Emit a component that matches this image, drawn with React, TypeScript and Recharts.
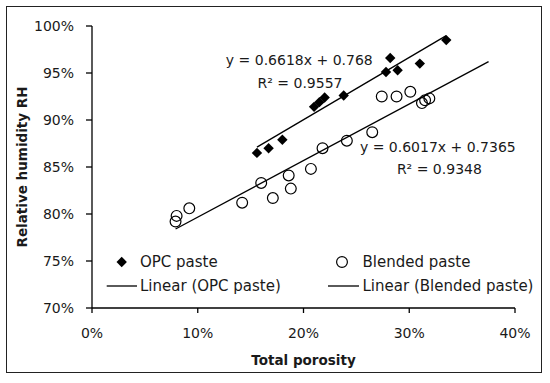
import React from 'react';
import { ScatterChart, Scatter, XAxis, YAxis, ReferenceLine, ReferenceDot, Legend } from 'recharts';

// OPC paste points
const opcPorosity = [0.156, 0.167, 0.180, 0.210, 0.215, 0.220, 0.238, 0.278, 0.282, 0.289, 0.310, 0.335];
const opcRH = [0.865, 0.870, 0.879, 0.914, 0.919, 0.924, 0.926, 0.951, 0.966, 0.953, 0.960, 0.985];

// Blended paste points
const blendPorosity = [0.079, 0.080, 0.092, 0.142, 0.160, 0.171, 0.186, 0.188, 0.207, 0.218, 0.241, 0.265, 0.274, 0.288, 0.301, 0.312, 0.315, 0.319];
const blendRH = [0.792, 0.798, 0.806, 0.812, 0.833, 0.817, 0.841, 0.827, 0.848, 0.870, 0.878, 0.887, 0.925, 0.925, 0.930, 0.918, 0.921, 0.923];

// Linear trendline endpoints [x, y]
const opcTrend = [[0.156, 0.8712], [0.335, 0.9897]];
const blendTrend = [[0.079, 0.7840], [0.375, 0.9621]];

const xTicks = [0, 0.1, 0.2, 0.3, 0.4];
const yTicks = [0.7, 0.75, 0.8, 0.85, 0.9, 0.95, 1.0];

const seriesNames = ['OPC paste', 'Blended paste', 'Linear (OPC paste)', 'Linear (Blended paste)'];
const opcEq = ['y = 0.6618x + 0.768', 'R² = 0.9557'];
const blendEq = ['y = 0.6017x + 0.7365', 'R² = 0.9348'];

const opcData = opcPorosity.map((x, i) => ({ x, y: opcRH[i] }));
const blendData = blendPorosity.map((x, i) => ({ x, y: blendRH[i] }));

const FONT = '"DejaVu Sans", Verdana, sans-serif';
const TXT = '#1a1a1a';

const pct = (v: number) => `${Math.round(v * 100)}%`;

const Diamond = (p: any) => {
  const { cx, cy } = p;
  const h = 5.2;
  return <polygon points={`${cx},${cy - h} ${cx + h},${cy} ${cx},${cy + h} ${cx - h},${cy}`} fill="#000" />;
};
const Circle = (p: any) => <circle cx={p.cx} cy={p.cy} r={5.4} fill="none" stroke="#000" strokeWidth={1.2} />;

const textShape = (t: string) => (p: any) => (
  <text x={p.cx} y={p.cy} textAnchor="middle" dominantBaseline="central" fontFamily={FONT} fontSize={14} fill={TXT}>
    {t}
  </text>
);

const LegendBox = () => (
  <svg width={440} height={50} style={{ display: 'block' }}>
    <polygon points="21.7,6.8 26.9,12 21.7,17.2 16.5,12" fill="#000" />
    <text x={40} y={12} dominantBaseline="central" fontFamily={FONT} fontSize={15} fill={TXT}>{seriesNames[0]}</text>
    <circle cx={242} cy={12} r={5.4} fill="none" stroke="#000" strokeWidth={1.2} />
    <text x={262.5} y={12} dominantBaseline="central" fontFamily={FONT} fontSize={15} fill={TXT}>{seriesNames[1]}</text>
    <line x1={6.7} y1={36} x2={37} y2={36} stroke="#000" strokeWidth={1.3} />
    <text x={40} y={36} dominantBaseline="central" fontFamily={FONT} fontSize={15} fill={TXT}>{seriesNames[2]}</text>
    <line x1={228} y1={36} x2={259} y2={36} stroke="#000" strokeWidth={1.3} />
    <text x={262.5} y={36} dominantBaseline="central" fontFamily={FONT} fontSize={15} fill={TXT}>{seriesNames[3]}</text>
  </svg>
);

export default function App() {
  return (
    <div style={{ position: 'absolute', left: 0, top: 0, width: 550, height: 383, background: '#fff' }}>
      <div style={{ position: 'absolute', left: 6, top: 6, width: 534, height: 365, border: '1.5px solid #222' }} />
      <div style={{ position: 'absolute', left: 0, top: 0 }}>
        <ScatterChart width={550} height={383} margin={{ top: 26, right: 35, bottom: 0, left: 0 }}>
          <XAxis
            type="number"
            dataKey="x"
            domain={[0, 0.4]}
            ticks={xTicks}
            tickFormatter={pct}
            height={75}
            stroke="#000"
            strokeWidth={1.3}
            tickSize={5}
            tickMargin={15}
            tick={{ fontFamily: FONT, fontSize: 14, fill: TXT }}
            allowDataOverflow
            label={{ value: 'Total porosity', position: 'insideBottom', offset: 18, style: { fontFamily: FONT, fontSize: 13.5, fontWeight: 'bold', fill: TXT } }}
          />
          <YAxis
            type="number"
            dataKey="y"
            domain={[0.7, 1.0]}
            ticks={yTicks}
            tickFormatter={pct}
            width={92}
            stroke="#000"
            strokeWidth={1.3}
            tickSize={6}
            tickMargin={12}
            tick={{ fontFamily: FONT, fontSize: 14, fill: TXT }}
            allowDataOverflow
            label={{ value: 'Relative humidity RH', angle: -90, position: 'insideLeft', offset: 22, style: { fontFamily: FONT, fontSize: 13.5, fontWeight: 'bold', fill: TXT, textAnchor: 'middle' } }}
          />
          <ReferenceLine
            segment={[{ x: opcTrend[0][0], y: opcTrend[0][1] }, { x: opcTrend[1][0], y: opcTrend[1][1] }]}
            stroke="#000"
            strokeWidth={1.3}
          />
          <ReferenceLine
            segment={[{ x: blendTrend[0][0], y: blendTrend[0][1] }, { x: blendTrend[1][0], y: blendTrend[1][1] }]}
            stroke="#000"
            strokeWidth={1.3}
          />
          <Scatter name={seriesNames[0]} data={opcData} shape={Diamond} isAnimationActive={false} />
          <Scatter name={seriesNames[1]} data={blendData} shape={Circle} isAnimationActive={false} />
          <ReferenceDot x={0.196} y={0.9638} r={0} shape={textShape(opcEq[0])} />
          <ReferenceDot x={0.1967} y={0.9394} r={0} shape={textShape(opcEq[1])} />
          <ReferenceDot x={0.327} y={0.8716} r={0} shape={textShape(blendEq[0])} />
          <ReferenceDot x={0.3285} y={0.8479} r={0} shape={textShape(blendEq[1])} />
          <Legend
            layout="horizontal"
            verticalAlign="middle"
            align="center"
            wrapperStyle={{ position: 'absolute', left: 100, top: 250, width: 440, height: 50 }}
            content={() => <LegendBox />}
          />
        </ScatterChart>
      </div>
    </div>
  );
}
